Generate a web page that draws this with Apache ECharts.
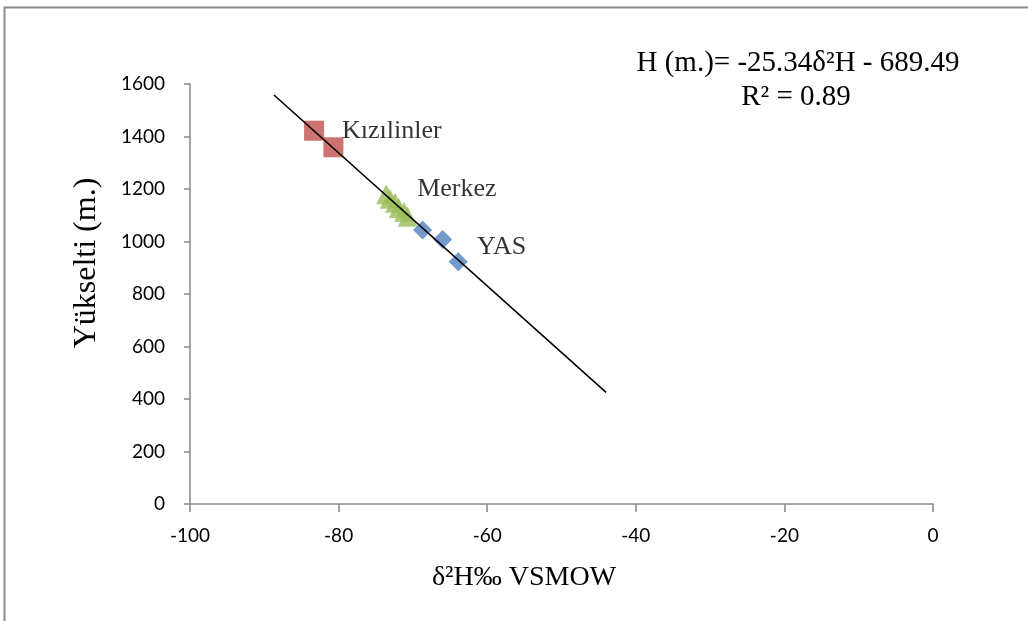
<!DOCTYPE html>
<html>
<head>
<meta charset="utf-8">
<script src="https://cdn.jsdelivr.net/npm/echarts@6/dist/echarts.min.js"></script>
<style>
  html, body { margin: 0; padding: 0; background: #fff; }
  #chart { width: 1028px; height: 621px; }
</style>
</head>
<body>
<div id="chart"></div>
<script>
// δ2H (x) and elevation (y) per sampling group
const kizilinlerX = [-83.3, -80.7]
const kizilinlerY = [1422, 1359]
const merkezX = [-73.6, -73.1, -72.4, -71.9, -71.2, -70.7]
const merkezY = [1180, 1163, 1148, 1128, 1113, 1094]
const yasX = [-68.7, -66.0, -63.9]
const yasY = [1044, 1008, 923]

// regression line H = slope * d2H + intercept, drawn over this x span
const slope = -25.34
const intercept = -689.49
const trendX = [-88.7, -44.0]

const xTicks = [-100, -80, -60, -40, -20, 0]
const yTicks = [0, 200, 400, 600, 800, 1000, 1200, 1400, 1600]

const pairs = (xs, ys) => xs.map((x, i) => [x, ys[i]])

const serif = 'Liberation Serif'
const labelStyle = { fontFamily: serif, fontSize: 26, color: '#000', textBorderWidth: 0 }

// label only on one point of each group
const withLabel = (data, idx, text, opts) => data.map((d, i) => i === idx
  ? { value: d, label: Object.assign({ show: true, formatter: text, position: 'right' }, labelStyle, opts) }
  : d)

const axisColor = '#868686'

const myChart = echarts.init(document.getElementById('chart'))
myChart.setOption({
  animation: false,
  backgroundColor: '#fff',
  grid: { left: 190, right: 95, top: 84, bottom: 117 },
  xAxis: {
    type: 'value',
    min: xTicks[0],
    max: xTicks[xTicks.length - 1],
    interval: 20,
    axisLine: { show: true, onZero: false, lineStyle: { color: axisColor, width: 1.5 } },
    axisTick: { show: true, inside: false, length: 8, lineStyle: { color: axisColor, width: 1.5 } },
    axisLabel: { margin: 22, fontFamily: 'Lato', fontSize: 19, color: '#000', formatter: v => String(v) },
    splitLine: { show: false }
  },
  yAxis: {
    type: 'value',
    min: yTicks[0],
    max: yTicks[yTicks.length - 1],
    interval: 200,
    axisLine: { show: true, onZero: false, lineStyle: { color: axisColor, width: 1.5 } },
    axisTick: { show: true, inside: false, length: 6, lineStyle: { color: axisColor, width: 1.5 } },
    axisLabel: { margin: 25, fontFamily: 'Lato', fontSize: 19, color: '#000', formatter: v => String(v) },
    splitLine: { show: false }
  },
  series: [
    {
      name: 'trend',
      type: 'line',
      data: trendX.map(x => [x, slope * x + intercept]),
      showSymbol: false,
      lineStyle: { color: '#000', width: 1.6 },
      z: 5
    },
    {
      name: 'Merkez',
      type: 'scatter',
      symbol: 'triangle',
      symbolSize: 20,
      itemStyle: { color: '#9BBB59' },
      data: withLabel(pairs(merkezX, merkezY), 0, 'Merkez', { distance: 21, offset: [0, -5] }),
      z: 3
    },
    {
      name: 'YAS',
      type: 'scatter',
      symbol: 'diamond',
      symbolSize: 19,
      itemStyle: { color: '#4F81BD' },
      data: withLabel(pairs(yasX, yasY), 1, 'YAS', { distance: 25, offset: [0, 8] }),
      z: 3
    },
    {
      name: 'Kızılinler',
      type: 'scatter',
      symbol: 'rect',
      symbolSize: 20,
      itemStyle: { color: '#C0504D' },
      data: withLabel(pairs(kizilinlerX, kizilinlerY), 0, 'Kızılinler', { distance: 18 }),
      z: 3
    }
  ],
  graphic: [
    {
      type: 'rect',
      shape: { x: 4.5, y: 7.5, width: 1100, height: 700 },
      style: { fill: null, stroke: '#8c8c8c', lineWidth: 2 },
      silent: true
    },
    {
      type: 'text',
      x: 798, y: 63,
      style: { text: 'H (m.)= -25.34δ²H - 689.49', fontFamily: serif, fontSize: 29, fill: '#000', textAlign: 'center', textVerticalAlign: 'middle' }
    },
    {
      type: 'text',
      x: 796, y: 97,
      style: { text: 'R² = 0.89', fontFamily: serif, fontSize: 29, fill: '#000', textAlign: 'center', textVerticalAlign: 'middle' }
    },
    {
      type: 'text',
      x: 524, y: 578,
      style: { text: 'δ²H‰ VSMOW', fontFamily: serif, fontSize: 28, fill: '#000', textAlign: 'center', textVerticalAlign: 'middle' }
    },
    {
      type: 'text',
      x: 87, y: 263,
      rotation: Math.PI / 2,
      style: { text: 'Yükselti (m.)', fontFamily: serif, fontSize: 32, fill: '#000', textAlign: 'center', textVerticalAlign: 'middle' }
    }
  ]
})
</script>
</body>
</html>
